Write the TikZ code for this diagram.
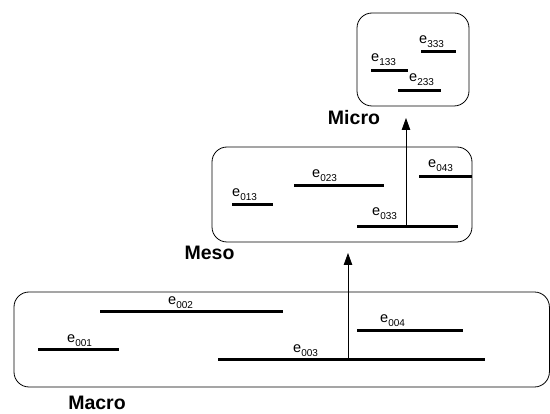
\documentclass[tikz,border=0pt]{standalone}
\usepackage{fontspec}
\setmainfont{Liberation Sans}
\usetikzlibrary{arrows.meta}
\newcommand\evt[1]{e\raisebox{-3.5pt}{\fontsize{10}{10}\selectfont #1}}
\begin{document}
\begin{tikzpicture}[x=1pt,y=-1pt,
  levelbox/.style={draw, line width=0.8pt, rounded corners=15pt},
  evline/.style={line width=3pt},
  lbl/.style={anchor=base west, inner sep=0pt, font=\fontsize{14.5}{14.5}\selectfont},
  lvl/.style={inner sep=0pt, anchor=base, font=\bfseries\fontsize{19.5}{20}\selectfont},
  uparrow/.style={-{Triangle[length=12pt,width=8.5pt]}, line width=0.8pt}]
\useasboundingbox (0,0) rectangle (550,414);
% level boxes
\draw[levelbox] (14,292) rectangle (549.4,387);
\draw[levelbox] (212,147) rectangle (472,242);
\draw[levelbox] (357,13) rectangle (469,106);
% level labels
\node[lvl] (macro) at (97,410) {Macro};
\node[lvl] (meso) at (209.5,259.5) {Meso};
\node[lvl] (micro) at (354,124.5) {Micro};
% macro events
\draw[evline] (38,350) coordinate (e001a) -- (119,350) coordinate (e001b);
\draw[evline] (100,312) coordinate (e002a) -- (283,312) coordinate (e002b);
\draw[evline] (218,360) coordinate (e003a) -- (485,360) coordinate (e003b);
\draw[evline] (357,331) coordinate (e004a) -- (463,331) coordinate (e004b);
\node[lbl] (l001) at (67,343) {\evt{001}};
\node[lbl] (l002) at (168,305) {\evt{002}};
\node[lbl] (l003) at (293,353) {\evt{003}};
\node[lbl] (l004) at (380,323) {\evt{004}};
% meso events
\draw[evline] (232,205) coordinate (e013a) -- (273,205) coordinate (e013b);
\draw[evline] (294,186) coordinate (e023a) -- (384,186) coordinate (e023b);
\draw[evline] (357,227) coordinate (e033a) -- (458,227) coordinate (e033b);
\draw[evline] (419,177) coordinate (e043a) -- (472,177) coordinate (e043b);
\node[lbl] (l013) at (232,197) {\evt{013}};
\node[lbl] (l023) at (312,178) {\evt{023}};
\node[lbl] (l033) at (372,216) {\evt{033}};
\node[lbl] (l043) at (428,168) {\evt{043}};
% micro events
\draw[evline] (371,71) coordinate (e133a) -- (408,71) coordinate (e133b);
\draw[evline] (398,91) coordinate (e233a) -- (441,91) coordinate (e233b);
\draw[evline] (421,52) coordinate (e333a) -- (456,52) coordinate (e333b);
\node[lbl] (l133) at (371,62) {\evt{133}};
\node[lbl] (l233) at (409,82) {\evt{233}};
\node[lbl] (l333) at (419,44) {\evt{333}};
% arrows between levels
\coordinate (a1s) at (348,360);
\coordinate (a1e) at (348,253);
\coordinate (a2s) at (406,227);
\coordinate (a2e) at (406,118);
\draw[uparrow] (a1s) -- (a1e);
\draw[uparrow] (a2s) -- (a2e);
\end{tikzpicture}
\end{document}
